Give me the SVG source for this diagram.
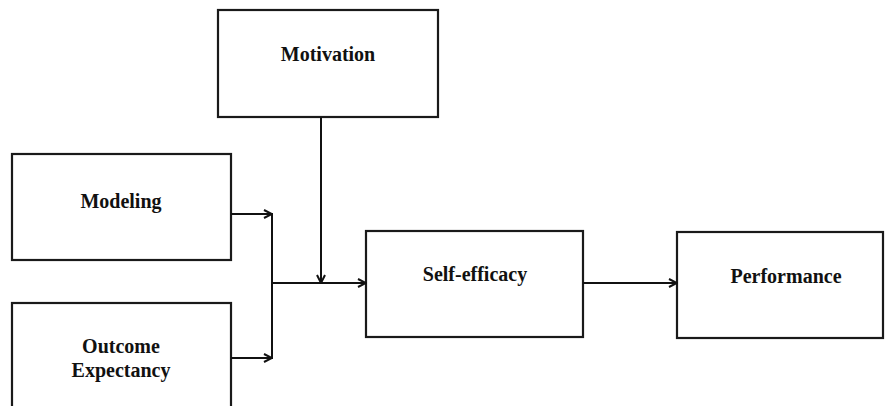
<svg xmlns="http://www.w3.org/2000/svg" width="887" height="406" viewBox="0 0 887 406">
<style>
.box{fill:#fff;stroke:#1a1a1a;stroke-width:2.2}
.lbl{font-family:"Liberation Serif","Times New Roman",serif;font-weight:bold;font-size:20px;fill:#111;text-anchor:middle}
.ln{fill:none;stroke:#111;stroke-width:2}
</style>
<defs>
<marker id="ah" viewBox="0 0 10 10" refX="9" refY="5" markerWidth="10" markerHeight="10" markerUnits="userSpaceOnUse" orient="auto">
<polyline points="1,1 9,5 1,9" fill="none" stroke="#111" stroke-width="2"/>
</marker>
</defs>
<rect width="887" height="406" fill="#fff"/>
<g id="motivation"><rect class="box" x="218" y="10" width="220" height="107"/><text class="lbl" x="328" y="61">Motivation</text></g>
<g id="modeling"><rect class="box" x="12" y="154" width="219" height="106"/><text class="lbl" x="121" y="208">Modeling</text></g>
<g id="outcome"><rect class="box" x="12" y="303" width="219" height="110"/><text class="lbl" x="121" y="353">Outcome</text><text class="lbl" x="121" y="377">Expectancy</text></g>
<g id="selfefficacy"><rect class="box" x="366" y="231" width="217" height="106"/><text class="lbl" x="475" y="281">Self-efficacy</text></g>
<g id="performance"><rect class="box" x="677" y="232" width="206" height="106"/><text class="lbl" x="786" y="283">Performance</text></g>
<g id="connectors">
<line class="ln" x1="231" y1="214" x2="272" y2="214" marker-end="url(#ah)"/>
<line class="ln" x1="231" y1="358" x2="272" y2="358" marker-end="url(#ah)"/>
<line class="ln" x1="272" y1="213" x2="272" y2="359"/>
<line class="ln" x1="272" y1="283" x2="366" y2="283" marker-end="url(#ah)"/>
<line class="ln" x1="321" y1="117" x2="321" y2="283" marker-end="url(#ah)"/>
<line class="ln" x1="583" y1="283" x2="677" y2="283" marker-end="url(#ah)"/>
</g>
</svg>
